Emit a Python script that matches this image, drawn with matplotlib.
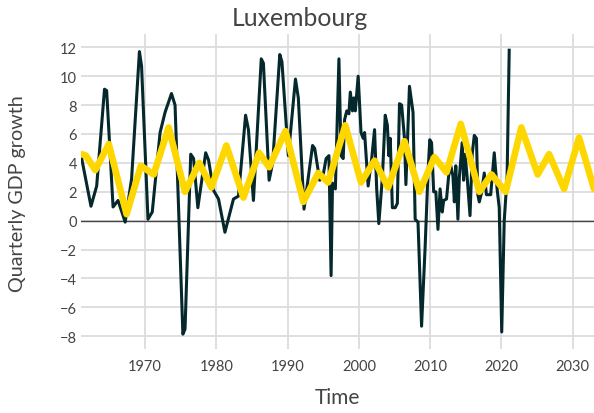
import numpy as np
import matplotlib
matplotlib.use("Agg")
import matplotlib.pyplot as plt

# ── Data ──────────────────────────────────────────────────────────────────────
gdp_t = [1961.1, 1962.4, 1963.2, 1964.3, 1964.6, 1965.5, 1966.2, 1967.2, 1968.1,
         1969.2, 1969.5, 1970.4, 1971.0, 1972.1, 1972.8, 1973.7, 1974.2, 1975.3,
         1975.6, 1976.4, 1976.8, 1977.4, 1978.5, 1978.9, 1979.6, 1980.3, 1981.2,
         1982.4, 1983.1, 1984.1, 1984.5, 1985.2, 1986.3, 1986.6, 1987.4, 1987.9,
         1988.9, 1989.2, 1990.1, 1991.1, 1991.5, 1992.3, 1993.5, 1993.8, 1994.5,
         1995.0, 1995.4, 1995.8, 1996.1, 1996.3, 1996.7, 1997.2, 1997.5, 1997.8,
         1998.0, 1998.3, 1998.6, 1998.8, 1999.1, 1999.3, 1999.5, 1999.9, 2000.3,
         2000.6, 2000.8, 2001.3, 2001.8, 2002.2, 2002.5, 2002.8, 2003.3, 2003.7,
         2004.0, 2004.2, 2004.4, 2004.7, 2005.1, 2005.4, 2005.7, 2006.0, 2006.4,
         2006.6, 2007.1, 2007.6, 2007.9, 2008.3, 2008.8, 2009.3, 2009.7, 2009.95,
         2010.2, 2010.5, 2010.8, 2011.1, 2011.4, 2011.7, 2011.9, 2012.3, 2012.6,
         2012.9, 2013.2, 2013.4, 2013.6, 2013.9, 2014.1, 2014.5, 2014.7, 2014.9,
         2015.2, 2015.6, 2015.9, 2016.2, 2016.5, 2016.7, 2016.9, 2017.2, 2017.6,
         2017.9, 2018.2, 2018.5, 2019.0, 2019.4, 2019.7, 2020.05, 2020.4, 2020.8,
         2021.1]
gdp_v = [4.3, 1.0, 2.4, 9.1, 9.0, 0.95, 1.4, -0.1, 2.9,
         11.7, 10.7, 0.1, 0.6, 6.1, 7.5, 8.8, 8.0, -7.85,
         -7.5, 4.6, 4.3, 0.9, 4.7, 4.2, 2.1, 1.5, -0.8,
         1.5, 1.7, 7.3, 6.3, 1.4, 11.2, 10.9, 2.8, 4.0,
         11.5, 11.0, 4.5, 9.8, 8.5, 0.8, 5.2, 5.0, 2.8,
         3.2, 4.3, 4.5, -3.8, 2.6, 2.2, 11.2, 4.5, 4.3,
         7.0, 7.6, 7.4, 8.9, 7.6, 8.5, 7.6, 10.0, 6.1,
         5.7, 6.1, 2.4, 4.3, 6.3, 2.2, -0.2, 3.0, 7.3,
         6.6, 4.5, 5.7, 0.9, 0.9, 1.2, 8.1, 8.0, 5.7,
         2.5, 9.3, 7.5, 0.1, -0.1, -7.3, -1.8, 3.3, 5.6,
         5.4, 2.0, 2.0, -0.6, 2.2, 0.6, 1.4, 1.5, 3.1,
         3.8, 3.1, 1.3, 3.8, 0.1, 3.0, 5.4, 2.8, 4.6,
         3.0, 0.35, 4.6, 5.9, 5.7, 1.8, 1.3, 1.9, 3.3,
         1.8, 1.8, 1.8, 4.7, 2.2, 0.9, -7.7, 0.0, 3.0,
         11.8]

trend_t = [1961.1, 1961.7, 1963.0, 1964.9, 1967.4, 1969.4, 1971.2, 1973.3, 1975.6,
           1977.6, 1979.3, 1981.4, 1983.8, 1986.0, 1987.4, 1989.7, 1992.2, 1994.3,
           1995.7, 1998.1, 2000.3, 2002.2, 2004.1, 2006.4, 2008.5, 2010.6, 2012.3,
           2014.3, 2016.9, 2018.6, 2020.6, 2022.8, 2025.1, 2026.7, 2028.8, 2030.9,
           2033.0]
trend_v = [4.6, 4.5, 3.5, 5.3, 0.45, 3.8, 3.2, 6.45, 2.0,
           4.0, 2.3, 5.2, 1.6, 4.7, 3.7, 6.2, 1.3, 3.3,
           2.65, 6.6, 2.65, 4.15, 2.3, 5.5, 2.0, 4.4, 3.35,
           6.7, 2.0, 3.2, 2.0, 6.45, 3.2, 4.6, 2.2, 5.75,
           2.2]

YTICKS = list(range(-8, 13, 2))
XTICKS = [1970, 1980, 1990, 2000, 2010, 2020, 2030]
TXT = "#444444"

plt.rcParams["font.family"] = ["Lato", "DejaVu Sans"]

fig = plt.figure(figsize=(5.94, 4.14), dpi=100)
ax = fig.add_axes([81 / 594, 1 - 350 / 414, 1 - 81 / 594, (350 - 35) / 414])

ax.plot(gdp_t, gdp_v, color="#04282c", lw=2.2, solid_joinstyle="round", zorder=3)
ax.plot(trend_t, trend_v, color="#ffd700", lw=4.8, solid_joinstyle="round",
        solid_capstyle="round", zorder=4)

ax.axhline(0, color=TXT, lw=1.0, zorder=2)
ax.set_xlim(1961.0, 2033.0)
ax.set_ylim(-8.88, 12.92)
ax.set_xticks(XTICKS)
ax.set_yticks(YTICKS)
ax.set_yticklabels([f"{v}".replace("-", "\u2212") for v in YTICKS])
ax.grid(True, color="#dcdcdc", lw=1.3, zorder=0)
ax.set_axisbelow(True)
for sp in ax.spines.values():
    sp.set_visible(False)
ax.tick_params(length=0, colors=TXT, labelsize=10.5)
ax.tick_params(axis="x", pad=7)
ax.tick_params(axis="y", pad=3)

fig.text(337.5 / 594, 1 - 398 / 414, "Time", ha="center", va="center",
         color=TXT, fontsize=15)
fig.text(18 / 594, 1 - 194 / 414, "Quarterly GDP growth", ha="center", va="center",
         rotation=90, color=TXT, fontsize=14.2)
fig.text(300 / 594, 1 - 18 / 414, "Luxembourg", ha="center", va="center",
         color=TXT, fontsize=17.8)

fig.savefig("out.png", dpi=100)
